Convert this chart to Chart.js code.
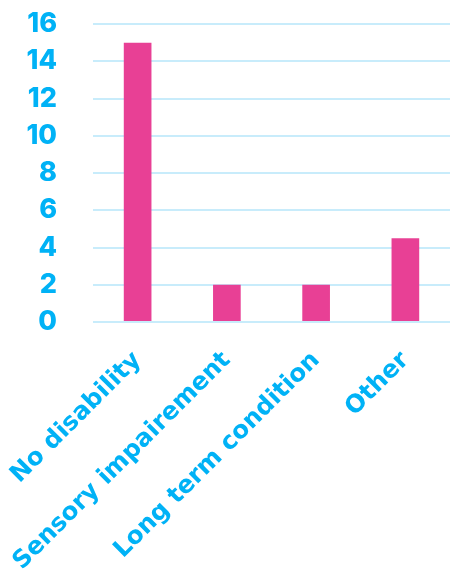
<!DOCTYPE html>
<html>
<head>
<meta charset="utf-8">
<script src="https://cdn.jsdelivr.net/npm/chart.js@4"></script>
<style>
html,body{margin:0;padding:0;background:#fff;}
#wrap{width:450px;height:573px;position:relative;}
</style>
</head>
<body>
<div id="wrap"><canvas id="c"></canvas></div>
<script>
const categories = ["No disability", "Sensory impairement", "Long term condition", "Other"];
const values = [15, 2, 2, 4.5];
const yTicks = [0, 2, 4, 6, 8, 10, 12, 14, 16];

const blue = '#00b2f6';
new Chart(document.getElementById('c'), {
  type: 'bar',
  data: {
    labels: categories,
    datasets: [{
      data: values,
      backgroundColor: '#e84095',
      barPercentage: 0.31,
      categoryPercentage: 1.0
    }]
  },
  options: {
    responsive: true,
    maintainAspectRatio: false,
    animation: false,
    layout: { padding: { top: 24, right: 0, left: 0, bottom: 0 } },
    plugins: { legend: { display: false }, tooltip: { enabled: false } },
    scales: {
      x: {
        afterFit: (s) => { s.height = 251; s.paddingLeft = 0; s.paddingRight = 0; },
        grid: { display: false, drawTicks: false },
        border: { display: false },
        ticks: {
          color: blue,
          font: { family: 'DejaVu Sans', weight: 'bold', size: 24.5 },
          maxRotation: 45, minRotation: 45,
          autoSkip: false,
          padding: 24
        }
      },
      y: {
        min: 0, max: 16,
        afterBuildTicks: (axis) => { axis.ticks = yTicks.map(v => ({ value: v })); },
        afterFit: (s) => { s.paddingTop = 0; s.paddingBottom = 0; s.width = 93; },
        grid: { color: '#c8ecfb', lineWidth: 2, drawTicks: false },
        border: { display: false },
        ticks: {
          color: blue,
          font: { family: 'Inter', weight: '800', size: 27 },
          autoSkip: false,
          padding: 36
        }
      }
    }
  }
});
</script>
</body>
</html>
